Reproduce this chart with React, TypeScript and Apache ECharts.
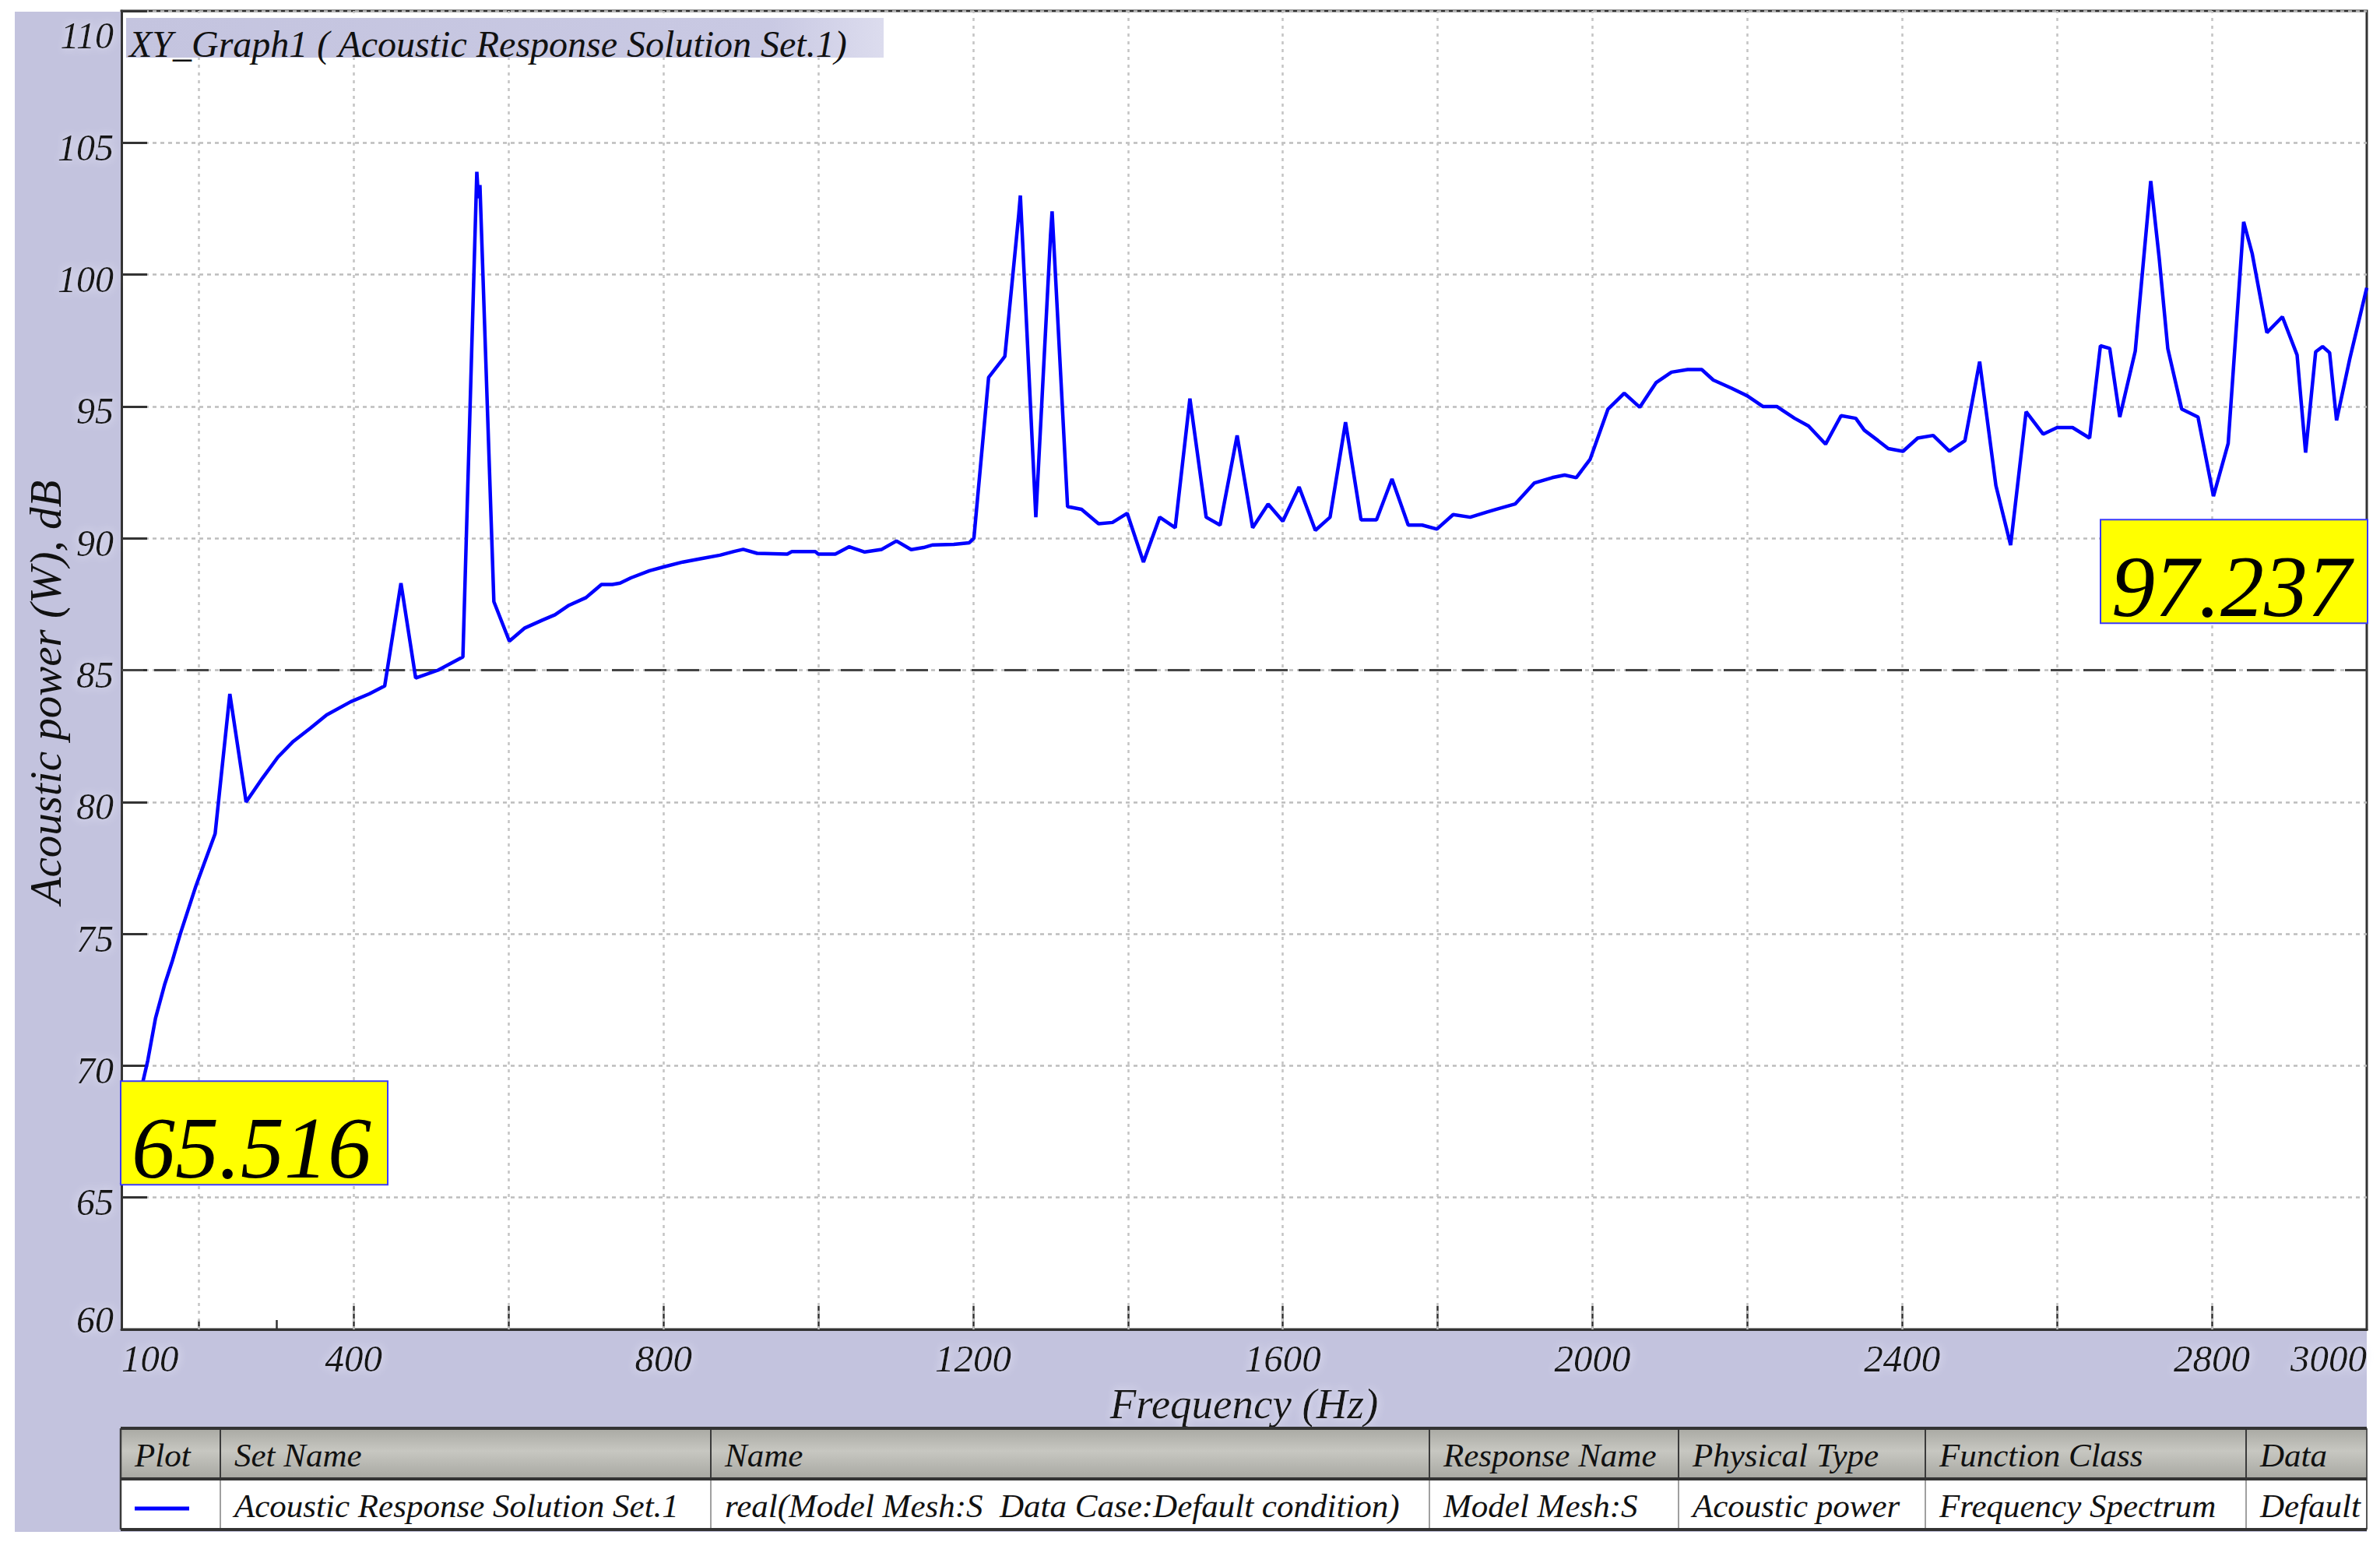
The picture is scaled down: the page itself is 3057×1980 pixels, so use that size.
import React, { useEffect, useRef } from "react";
import * as echarts from "echarts";

// ---------------- data ----------------
const freqHz = [
  100, 114, 127, 134, 144, 156, 166, 176, 186, 196, 206, 221, 240, 261, 282, 302, 322, 344, 365, 396,
  420, 440, 461, 480, 509, 541, 559, 561, 563, 581, 601, 621, 644, 660, 678, 700, 720, 734, 744, 758,
  782, 801, 825, 849, 873, 891, 903, 921, 960, 966, 996, 1000, 1022, 1040, 1060, 1082, 1101, 1120, 1136, 1148,
  1175, 1195, 1201, 1220, 1241, 1259, 1261, 1263, 1281, 1300, 1302, 1304, 1322, 1340, 1362, 1380, 1399, 1420, 1441, 1461,
  1480, 1501, 1519, 1541, 1561, 1581, 1600, 1621, 1642, 1661, 1681, 1701, 1721, 1741, 1762, 1780, 1799, 1820, 1842, 1864,
  1876, 1900, 1925, 1948, 1964, 1979, 1997, 2020, 2041, 2061, 2082, 2102, 2123, 2141, 2156, 2179, 2200, 2220, 2238, 2261,
  2279, 2301, 2321, 2340, 2351, 2369, 2382, 2401, 2420, 2440, 2461, 2481, 2500, 2521, 2540, 2560, 2582, 2600, 2620, 2642,
  2656, 2668, 2681, 2701, 2721, 2732, 2743, 2761, 2782, 2802, 2821, 2841, 2852, 2871, 2891, 2910, 2921, 2934, 2943, 2952,
  2961, 2978, 3000,
];
const powerDb = [
  65.516, 67.6, 69.3, 70.2, 71.8, 73.1, 74.0, 75.0, 75.9, 76.8, 77.6, 78.8, 84.1, 80.0, 80.9, 81.7, 82.3, 82.8, 83.3, 83.8,
  84.1, 84.4, 88.3, 84.7, 85.0, 85.5, 103.9, 102.9, 103.4, 87.6, 86.1, 86.6, 86.9, 87.1, 87.46, 87.75, 88.25, 88.25, 88.3, 88.5,
  88.77, 88.92, 89.1, 89.23, 89.36, 89.5, 89.58, 89.43, 89.4, 89.5, 89.5, 89.4, 89.4, 89.68, 89.48, 89.58, 89.9, 89.57, 89.65, 89.75,
  89.77, 89.83, 90.0, 96.1, 96.9, 102.3, 103.0, 101.8, 90.8, 101.5, 102.4, 101.3, 91.2, 91.1, 90.55, 90.6, 90.95, 89.1, 90.8, 90.4,
  95.3, 90.8, 90.5, 93.9, 90.4, 91.3, 90.65, 91.95, 90.3, 90.8, 94.4, 90.7, 90.7, 92.25, 90.5, 90.5, 90.35, 90.9, 90.8, 91.0,
  91.1, 91.3, 92.1, 92.3, 92.4, 92.3, 93.0, 94.9, 95.5, 94.97, 95.9, 96.3, 96.4, 96.4, 96.0, 95.7, 95.4, 95.0, 95.0, 94.55,
  94.26, 93.57, 94.65, 94.55, 94.1, 93.7, 93.4, 93.3, 93.8, 93.9, 93.3, 93.7, 96.7, 92.0, 89.74, 94.8, 93.95, 94.2, 94.2, 93.8,
  97.3, 97.2, 94.6, 97.1, 103.55, 100.6, 97.2, 94.9, 94.6, 91.6, 93.6, 102.0, 100.8, 97.8, 98.4, 96.95, 93.25, 97.07, 97.27, 97.04,
  94.47, 96.8, 99.5,
];

const xLabelFreqs = [100, 400, 800, 1200, 1600, 2000, 2400, 2800, 3000];
const majorTickFreqs = [400, 600, 800, 1000, 1200, 1400, 1600, 1800, 2000, 2200, 2400, 2600, 2800];
const minorTickFreqs = [200, 300];
const vGridFreqs = [200, 400, 600, 800, 1000, 1200, 1400, 1600, 1800, 2000, 2200, 2400, 2600, 2800];
const referenceDb = 85;
const yMin = 60;
const yMax = 110;

// annotation boxes: anchor frequency, anchor dB, shown value
const annotationFreqs = [100, 3000];
const annotationAnchorDb = [65.516, 86.81];
const annotationValues = [65.516, 97.237];

const chartTitle = "XY_Graph1 ( Acoustic Response Solution Set.1)";
const xTitle = "Frequency (Hz)";
const yTitle = "Acoustic power (W), dB";

const tableHeaders = ["Plot", "Set Name", "Name", "Response Name", "Physical Type", "Function Class", "Data"];
const tableRow = [
  "",
  "Acoustic Response Solution Set.1",
  "real(Model Mesh:S  Data Case:Default condition)",
  "Model Mesh:S",
  "Acoustic power",
  "Frequency Spectrum",
  "Default",
];

// ---------------- layout ----------------
const W = 3057;
const H = 1980;
const FONT = "'Liberation Serif', 'Times New Roman', serif";
const LAV = "#c3c3de";
const colX = [155, 283, 913, 1836, 2156, 2473, 2885];
const TABLE_RIGHT = 3040;
const HEAD_TOP = 1834;
const HEAD_BOT = 1899;
const ROW_BOT = 1964;

function buildGraphics() {
  const els: any[] = [];
  els.push({ type: "rect", z: 0, shape: { x: 19, y: 15, width: 137, height: 1692 }, style: { fill: LAV } });
  els.push({ type: "rect", z: 0, shape: { x: 19, y: 1707, width: 3021, height: 260 }, style: { fill: LAV } });
  els.push({
    type: "rect",
    z: 50,
    shape: { x: 162, y: 23, width: 973, height: 51 },
    style: {
      fill: {
        type: "linear", x: 0, y: 0, x2: 1, y2: 0,
        colorStops: [
          { offset: 0, color: "#c4c4df" },
          { offset: 0.85, color: "#c9c9e3" },
          { offset: 1, color: "#dcdcee" },
        ],
      },
    },
  });
  els.push({
    type: "text",
    z: 51,
    x: 166,
    y: 56,
    style: { text: chartTitle, fontFamily: FONT, fontStyle: "italic", fontSize: 48, fill: "#111", align: "left", verticalAlign: "middle" },
  });
  els.push({
    type: "text",
    z: 51,
    x: 58,
    y: 889,
    rotation: Math.PI / 2,
    style: { text: yTitle, fontFamily: FONT, fontStyle: "italic", fontSize: 57, fill: "#111", align: "center", verticalAlign: "middle" },
  });
  els.push({
    type: "rect",
    z: 60,
    shape: { x: colX[0], y: HEAD_TOP, width: TABLE_RIGHT - colX[0], height: HEAD_BOT - HEAD_TOP },
    style: {
      fill: {
        type: "linear", x: 0, y: 0, x2: 0, y2: 1,
        colorStops: [
          { offset: 0, color: "#a9a9a3" },
          { offset: 0.45, color: "#c7c7c1" },
          { offset: 1, color: "#a7a7a1" },
        ],
      },
    },
  });
  els.push({
    type: "rect",
    z: 60,
    shape: { x: colX[0], y: HEAD_BOT, width: TABLE_RIGHT - colX[0], height: ROW_BOT - HEAD_BOT },
    style: { fill: "#ffffff" },
  });
  colX.forEach((cx, i) => {
    if (i === 0) return;
    els.push({ type: "line", z: 61, shape: { x1: cx, y1: HEAD_TOP, x2: cx, y2: HEAD_BOT }, style: { stroke: "#3a3a3a", lineWidth: 2 } });
    els.push({ type: "line", z: 61, shape: { x1: cx, y1: HEAD_BOT, x2: cx, y2: ROW_BOT }, style: { stroke: "#808080", lineWidth: 1.5 } });
  });
  els.push({ type: "line", z: 62, shape: { x1: colX[0], y1: HEAD_TOP, x2: colX[0], y2: ROW_BOT }, style: { stroke: "#3a3a3a", lineWidth: 2.5 } });
  els.push({ type: "line", z: 62, shape: { x1: TABLE_RIGHT, y1: HEAD_TOP, x2: TABLE_RIGHT, y2: ROW_BOT }, style: { stroke: "#555", lineWidth: 2 } });
  [HEAD_TOP, HEAD_BOT, ROW_BOT].forEach((yy) => {
    els.push({ type: "line", z: 62, shape: { x1: colX[0], y1: yy, x2: TABLE_RIGHT, y2: yy }, style: { stroke: "#333", lineWidth: 4 } });
  });
  tableHeaders.forEach((t, i) => {
    els.push({
      type: "text", z: 63, x: colX[i] + 18, y: 1868,
      style: { text: t, fontFamily: FONT, fontStyle: "italic", fontSize: 43, fill: "#111", align: "left", verticalAlign: "middle" },
    });
  });
  tableRow.forEach((t, i) => {
    if (!t) return;
    els.push({
      type: "text", z: 63, x: colX[i] + 18, y: 1933,
      style: { text: t, fontFamily: FONT, fontStyle: "italic", fontSize: 43, fill: "#111", align: "left", verticalAlign: "middle" },
    });
  });
  els.push({ type: "line", z: 63, shape: { x1: 173, y1: 1937, x2: 243, y2: 1937 }, style: { stroke: "#0000ff", lineWidth: 5 } });
  return els;
}

const labelGlow = { textShadowColor: "rgba(236,236,250,0.95)", textShadowBlur: 12 };

export default function App() {
  const ref = useRef<HTMLDivElement>(null);
  useEffect(() => {
    if (!ref.current) return;
    const chart = echarts.init(ref.current, null, { renderer: "svg", width: W, height: H });
    const lineData = freqHz.map((f, i) => [f, powerDb[i]]);
    const markData = annotationFreqs.map((f, i) => ({
      coord: [f, annotationAnchorDb[i]],
      value: annotationValues[i],
      label: { align: i === 0 ? "left" : "right" },
    }));
    const axisFontBase = { fontFamily: FONT, fontStyle: "italic" as const, color: "#151515" };
    chart.setOption({
      animation: false,
      backgroundColor: "#ffffff",
      grid: {
        left: 156, right: W - 3040, top: 14, bottom: H - 1707,
        show: true, backgroundColor: "#ffffff", borderColor: "#333", borderWidth: 3,
        containLabel: false, outerBoundsMode: "none",
      },
      xAxis: [
        {
          type: "value", min: 100, max: 3000, position: "bottom",
          axisLine: { show: true, lineStyle: { color: "#333", width: 3 } },
          axisTick: { show: true, inside: true, length: 30, customValues: majorTickFreqs, lineStyle: { color: "#333", width: 2.5 } },
          axisLabel: {
            ...axisFontBase, ...labelGlow, fontSize: 49, lineHeight: 40, margin: 17, customValues: xLabelFreqs,
            alignMinLabel: "left", alignMaxLabel: "right", hideOverlap: false,
            formatter: (v: number) => String(v),
          },
          splitLine: { show: false },
          minorSplitLine: { show: false },
          name: xTitle, nameLocation: "middle", nameGap: 73, nameMoveOverlap: false,
          nameTextStyle: { ...axisFontBase, ...labelGlow, fontSize: 55, lineHeight: 45 },
        },
        {
          type: "value", min: 100, max: 3000, position: "bottom",
          axisLine: { show: false },
          axisTick: { show: true, inside: true, length: 12, customValues: minorTickFreqs, lineStyle: { color: "#333", width: 2.5 } },
          axisLabel: { show: false },
          splitLine: { show: false },
          minorSplitLine: { show: false },
        },
      ],
      yAxis: {
        type: "value", min: yMin, max: yMax, interval: 5,
        axisLine: { show: true, lineStyle: { color: "#333", width: 3 } },
        axisTick: { show: true, inside: true, length: 33, lineStyle: { color: "#333", width: 3 } },
        axisLabel: {
          ...axisFontBase, ...labelGlow, fontSize: 48, margin: 10, lineHeight: 26, padding: [12, 0, 0, 0],
          verticalAlignMaxLabel: "top", verticalAlignMinLabel: "bottom",
          formatter: (v: number) => (v === yMax ? `{top|${v}}` : String(v)),
          rich: {
            top: { fontFamily: FONT, fontStyle: "italic", fontSize: 48, color: "#151515", lineHeight: 26, padding: [12, 0, 0, 0] },
          },
        },
        splitLine: { show: true, lineStyle: { color: "#bdbdbd", type: [5, 5], width: 2.5 } },
      },
      graphic: { elements: buildGraphics() },
      series: [
        {
          name: "grid",
          type: "line",
          xAxisIndex: 0,
          data: [],
          z: 1,
          silent: true,
          markLine: {
            z: 1,
            silent: true,
            symbol: ["none", "none"],
            label: { show: false },
            lineStyle: { color: "#c4c4c4", type: [4, 6], width: 2.5 },
            data: [
              ...vGridFreqs.map((v) => ({ xAxis: v })),
              { yAxis: referenceDb, lineStyle: { color: "#454545", type: [28, 14], width: 3 } },
            ],
          },
        },
        {
          name: "Acoustic Response Solution Set.1",
          type: "line",
          xAxisIndex: 0,
          data: lineData,
          z: 3,
          showSymbol: false,
          symbol: "none",
          lineStyle: { color: "#0000ff", width: 4.5 },
          markPoint: {
            z: 10,
            symbol: "rect",
            symbolSize: 0,
            silent: true,
            label: {
              show: true,
              position: [0, 0],
              verticalAlign: "bottom",
              formatter: (p: any) => Number(p.value).toFixed(3),
              fontFamily: FONT,
              fontStyle: "italic",
              fontSize: 112,
              lineHeight: 80,
              color: "#000",
              backgroundColor: "#ffff00",
              borderColor: "#3a3aff",
              borderWidth: 2,
              padding: [45, 20, 6, 13],
            },
            data: markData,
          },
        },
      ],
    });
    return () => chart.dispose();
  }, []);
  return <div ref={ref} style={{ position: "fixed", left: 0, top: 0, width: W, height: H, background: "#fff" }} />;
}
